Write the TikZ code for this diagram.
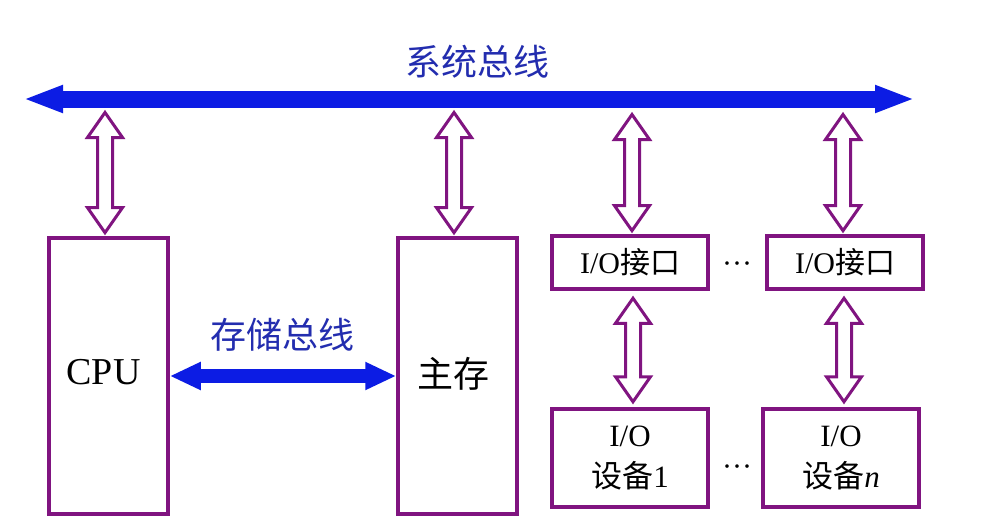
\documentclass[tikz,border=0pt]{standalone}
\usepackage{fontspec}
\setmainfont{Liberation Serif}
\newfontfamily\cjk{Noto Sans CJK SC}
\usetikzlibrary{arrows.meta,calc}
\definecolor{busblue}{RGB}{12,28,228}
\definecolor{lblblue}{RGB}{35,45,175}
\definecolor{purp}{RGB}{128,20,128}
\newcommand{\hollowarrow}[2]{%
  \draw[hollow] let \p1=(#1), \p2=(#2) in
   (\x1,\y1) -- (\x1+17.5pt,\y1-25pt) -- (\x1+7.5pt,\y1-25pt) -- (\x1+7.5pt,\y2+25pt)
   -- (\x1+17.5pt,\y2+25pt) -- (\x1,\y2) -- (\x1-17.5pt,\y2+25pt) -- (\x1-7.5pt,\y2+25pt)
   -- (\x1-7.5pt,\y1-25pt) -- (\x1-17.5pt,\y1-25pt) -- cycle;}
\begin{document}
\begin{tikzpicture}[x=1pt,y=-1pt,
  box/.style={draw=purp,line width=3.5pt,fill=white,inner sep=0pt,align=center},
  hollow/.style={draw=purp,line width=3pt,fill=white,line join=miter},
  busline/.style={busblue,line width=17pt,{Triangle[length=40pt,width=25pt]}-{Triangle[length=40pt,width=25pt]}},
  memline/.style={busblue,line width=14pt,{Triangle[length=31pt,width=26pt]}-{Triangle[length=31pt,width=26pt]}},
  lbl/.style={text=lblblue,font=\cjk\fontsize{36}{40}\selectfont,inner sep=0pt},
  ellip/.style={font=\fontsize{30}{34}\selectfont,inner sep=0pt}]
\fill[white] (0,0) rectangle (985,528);

% title and system bus
\node[lbl] (title) at (477,62) {系统总线};
\coordinate (busL) at (23,99);
\coordinate (busR) at (915,99);
\draw[busline] (busL) -- (busR);
\coordinate (busbot) at (0,112.5);
\coordinate (busbotio) at (0,114.5);

% boxes
\node[box,minimum width=119pt,minimum height=276pt,font=\fontsize{38}{44}\selectfont] (cpu) at (108.5,376) {\raisebox{8pt}{CPU}\hspace{10pt}};
\node[box,minimum width=119pt,minimum height=276pt,font=\cjk\fontsize{36}{42}\selectfont] (mem) at (457.5,376) {\raisebox{8pt}{主存}\hspace{8pt}};
\node[box,minimum width=156pt,minimum height=53pt,font=\fontsize{30}{34}\selectfont] (io1) at (630,262.5) {I/O{\cjk 接口}};
\node[box,minimum width=156pt,minimum height=53pt,font=\fontsize{30}{34}\selectfont] (io2) at (845,262.5) {I/O{\cjk 接口}};
\node[box,minimum width=156pt,minimum height=98pt,font=\fontsize{31}{44}\selectfont] (dev1) at (630,458) {\raisebox{-3pt}{I/O}\\{\cjk 设备}1};
\node[box,minimum width=156pt,minimum height=98pt,font=\fontsize{31}{44}\selectfont] (dev2) at (841,458) {\raisebox{-3pt}{I/O}\\{\cjk 设备}\textit{n}};

% ellipses
\node[ellip] (d1) at (737,268) {···};
\node[ellip] (d2) at (737,471) {···};

% memory bus
\draw[memline] (cpu.east) -- (mem.west);
\node[lbl] (mlbl) at (282,335) {存储总线};

% hollow double arrows
\coordinate (c1b) at ([xshift=-3.5pt,yshift=3.6pt]cpu.north);
\coordinate (c1t) at (c1b |- busbot);
\coordinate (c2b) at ([xshift=-3.5pt,yshift=3.6pt]mem.north);
\coordinate (c2t) at (c2b |- busbot);
\coordinate (c3b) at ([xshift=2pt,yshift=3.6pt]io1.north);
\coordinate (c3t) at (c3b |- busbotio);
\coordinate (c4b) at ([xshift=-2pt,yshift=3.6pt]io2.north);
\coordinate (c4t) at (c4b |- busbotio);
\hollowarrow{c1t}{c1b}
\hollowarrow{c2t}{c2b}
\hollowarrow{c3t}{c3b}
\hollowarrow{c4t}{c4b}

\coordinate (c5t) at ([xshift=3pt,yshift=-7.5pt]io1.south);
\coordinate (c5b) at ([xshift=3pt,yshift=5.5pt]dev1.north);
\coordinate (c6t) at ([xshift=-1pt,yshift=-7.5pt]io2.south);
\coordinate (c6b) at (c6t |- c5b);
\hollowarrow{c5t}{c5b}
\hollowarrow{c6t}{c6b}
\end{tikzpicture}
\end{document}
